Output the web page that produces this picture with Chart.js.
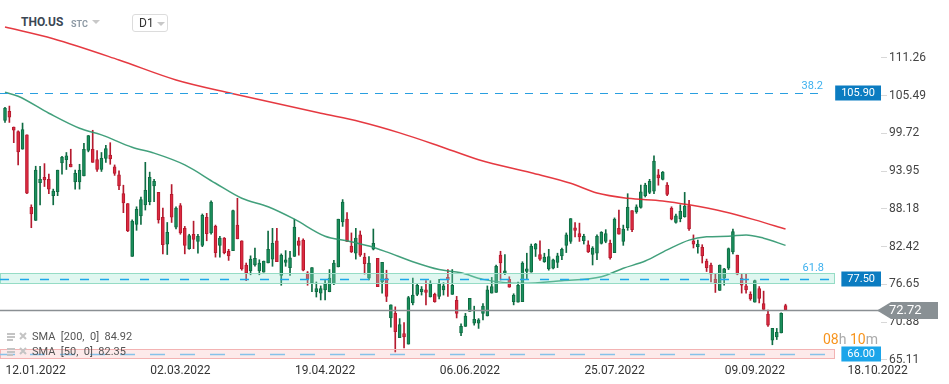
<!DOCTYPE html>
<html>
<head>
<meta charset="utf-8">
<script src="https://cdn.jsdelivr.net/npm/chart.js@4.4.0/dist/chart.umd.min.js"></script>
<style>
  body { margin: 0; background: #fff; font-family: Roboto, sans-serif; }
  #wrap { position: relative; width: 949px; height: 384px; overflow: hidden; }
  #chart { position: absolute; left: 0; top: 0; }
  .sym { position: absolute; left: 20px; top: 15px; font: bold 12px Roboto; color: #3b4754; background: #fff; padding: 0 1px; }
  .stc { position: absolute; left: 71px; top: 19px; font: bold 9px Roboto; color: #8e9aa5; }
  .tri { position: absolute; width: 0; height: 0; border-left: 4px solid transparent; border-right: 4px solid transparent; border-top: 4px solid #c8c8c8; }
  .tf { position: absolute; left: 132px; top: 14px; width: 34px; height: 16px; border: 1px solid #dcdcdc; border-radius: 3px; background: #fff; }
  .tf span.t { position: absolute; left: 6px; top: 1px; font: 12px Roboto; color: #333; }
  .timer { position: absolute; left: 823px; top: 331px; font: 14px Roboto; color: #aaa; white-space: nowrap; }
  .timer b { font-weight: normal; color: #f7941d; }
</style>
</head>
<body>
<div id="wrap">
  <canvas id="chart" width="949" height="384"></canvas>
  <div class="sym">THO.US</div>
  <div class="stc">STC</div>
  <div class="tri" style="left:92px;top:20px"></div>
  <div class="tf"><span class="t">D1</span><div class="tri" style="left:24px;top:7px"></div></div>
  <div class="timer"><b>08</b>h <b>10</b>m</div>
</div>
<script>
// daily candles, THO.US, 03.01.2022 - 20.09.2022 (index 0 = first candle)
const openP = [
  101.7,103.1,100.7,100.0,97.3,99.5,88.4,86.4,92.2,93.0,
  92.7,90.2,90.8,95.2,95.7,95.0,92.3,92.3,93.2,97.1,
  97.3,95.7,94.2,95.9,96.4,94.6,93.4,90.5,89.0,80.9,
  85.8,87.1,88.8,89.3,91.7,90.7,86.9,82.8,90.4,85.4,
  88.7,85.2,82.1,84.3,83.2,82.6,86.9,84.5,85.5,82.6,
  83.7,81.7,81.8,85.7,83.3,79.6,78.7,79.6,78.7,78.5,
  79.9,80.5,83.3,78.0,80.0,79.2,80.9,83.3,83.4,78.4,
  76.8,75.5,75.3,75.8,75.5,76.7,79.3,86.2,86.6,82.5,
  81.4,84.2,80.8,77.6,82.0,80.6,77.0,77.6,71.5,72.2,
  68.5,69.1,67.5,73.8,75.1,75.5,75.8,74.7,75.1,74.8,
  75.8,77.7,75.1,74.2,69.2,70.2,72.5,70.7,70.7,72.2,
  71.8,75.3,75.4,81.1,78.3,77.4,74.0,73.9,74.0,78.6,
  78.5,82.0,81.2,80.1,79.0,79.1,80.0,81.0,82.6,83.2,
  85.3,84.4,83.3,82.7,81.2,81.4,82.9,83.2,82.9,81.5,
  85.2,83.2,85.3,87.9,87.7,88.4,90.2,90.7,90.9,93.4,
  92.7,91.8,88.3,86.1,86.7,87.0,88.7,83.3,82.4,82.3,
  80.2,79.6,77.4,75.7,77.6,79.1,81.6,81.1,77.6,76.4,
  75.1,73.9,76.0,73.7,72.1,68.1,68.6,69.2,73.4
];
const highP = [
  103.7,103.9,100.7,100.1,101.3,99.5,88.8,94.7,94.7,95.1,
  93.5,91.2,94.1,96.2,96.8,97.3,94.1,95.0,98.2,99.4,
  100.2,97.1,96.8,97.9,98.3,94.9,94.0,91.8,89.0,86.5,
  88.5,90.0,95.3,93.8,92.7,90.7,88.3,86.1,91.9,88.5,
  89.0,85.5,84.3,86.3,84.3,87.4,87.5,89.4,85.7,84.0,
  83.8,82.0,88.0,89.8,83.3,79.9,81.0,82.2,80.4,80.2,
  84.8,85.2,85.2,81.3,81.8,81.7,86.6,83.8,83.6,78.6,
  79.2,77.0,76.4,77.3,78.9,80.3,86.6,89.6,87.6,84.5,
  85.2,84.8,81.4,80.9,85.1,80.6,80.0,78.8,73.5,73.2,
  71.4,70.8,74.8,77.6,76.7,76.3,77.2,77.2,75.3,77.4,
  76.9,78.9,78.9,74.8,70.6,72.2,74.5,73.3,71.4,73.7,
  76.4,77.7,79.6,81.7,81.2,77.8,75.2,77.0,80.1,81.4,
  82.8,82.9,83.3,81.4,82.0,80.5,81.4,82.2,84.5,86.7,
  86.1,86.0,84.3,83.3,82.4,84.2,84.7,85.0,83.4,86.8,
  88.0,85.7,90.5,87.9,88.8,91.8,92.1,92.7,96.3,94.2,
  93.9,92.2,88.5,87.4,88.8,90.7,89.5,84.2,83.4,82.7,
  80.5,79.9,78.3,79.6,79.1,82.2,85.1,81.1,78.3,78.2,
  75.5,77.3,76.3,75.6,72.7,69.9,69.9,72.3,73.6
];
const lowP = [
  101.4,101.4,98.3,94.9,97.3,90.5,85.3,86.4,88.8,91.6,
  90.5,88.8,90.2,93.5,94.2,94.6,91.2,91.2,93.2,96.9,
  95.3,93.9,93.9,95.3,95.0,93.3,91.1,87.6,84.7,80.9,
  84.9,85.8,88.0,88.8,89.3,86.0,81.3,81.2,86.1,85.1,
  84.3,81.3,82.0,82.1,81.4,82.4,83.3,84.3,80.8,80.8,
  81.3,80.3,81.8,83.6,78.8,77.2,78.1,79.4,78.1,78.5,
  79.9,79.4,80.1,76.5,79.4,78.0,80.9,81.1,78.7,76.5,
  75.5,74.7,74.25,74.25,75.5,76.6,79.3,85.5,83.2,81.5,
  80.5,80.9,78.2,77.3,81.9,76.3,75.3,74.0,70.1,66.3,
  68.5,66.9,67.5,73.5,74.9,75.0,73.5,74.7,73.9,74.4,
  75.0,74.8,75.1,71.5,68.8,70.2,72.5,70.4,69.9,71.2,
  71.8,75.3,75.4,77.3,78.1,76.2,73.5,73.9,74.0,77.4,
  78.5,80.9,80.3,80.0,78.8,79.0,79.2,80.4,81.5,82.9,
  83.9,83.2,82.8,81.5,79.6,80.4,82.8,83.0,80.5,81.5,
  84.3,82.6,84.9,84.7,87.5,88.3,90.0,90.5,90.5,91.8,
  92.6,90.2,86.5,86.0,86.2,86.9,84.9,82.2,81.4,79.9,
  78.6,77.0,75.4,75.7,76.5,78.9,81.3,78.1,75.3,75.3,
  74.2,73.9,73.8,72.8,70.2,67.4,68.2,69.2,72.72
];
const closeP = [
  103.6,102.2,100.2,96.9,100.3,90.6,87.4,94.1,92.7,92.6,
  91.2,90.9,94.1,96.1,96.3,94.6,93.6,94.1,97.3,99.4,
  95.3,94.2,95.9,97.4,95.8,93.6,91.7,89.1,84.8,86.3,
  88.1,89.6,91.0,93.0,92.4,86.5,82.7,84.6,86.9,88.3,
  84.5,82.6,84.1,83.5,84.0,87.2,84.4,89.2,81.5,83.7,
  81.5,81.0,87.9,83.6,79.0,78.4,80.5,80.6,79.9,80.2,
  82.0,82.9,80.1,81.1,80.4,80.7,85.4,82.6,78.8,77.5,
  79.2,76.0,76.0,76.7,77.6,79.9,86.6,89.2,83.2,81.6,
  83.7,81.1,79.8,79.9,82.9,76.3,80.0,74.8,73.5,69.4,
  70.5,68.6,74.6,75.0,76.5,75.9,75.4,76.8,74.0,76.7,
  76.4,77.3,76.5,72.2,70.2,71.8,74.5,71.3,71.2,73.3,
  75.8,76.3,79.4,79.9,78.7,76.2,75.0,76.5,79.9,79.0,
  82.5,82.8,80.5,80.8,80.9,80.4,81.0,82.0,84.2,86.7,
  84.9,83.9,84.0,81.6,82.2,84.0,84.6,84.4,80.7,86.6,
  84.3,85.1,88.4,85.0,88.5,90.8,91.8,92.4,95.5,92.9,
  93.8,90.4,86.6,87.1,87.8,88.6,85.1,82.8,82.8,81.0,
  79.2,78.2,76.9,79.6,79.0,82.1,84.7,78.2,76.5,75.8,
  74.4,77.2,74.5,72.8,70.4,69.9,69.3,72.2,72.72
];

// moving averages, read at a few candles
const sma200Idx = [0,11,26,39,52,72,81,90,99,108,120,129,135,142,150,156,164,171,178];
const sma200Val = [116.0,114.2,110.95,107.9,105.8,102.8,101.5,99.8,97.8,95.7,93.7,92.1,90.6,89.8,89.4,88.8,87.75,86.5,85.1];
const sma50Idx = [0,3,10,17,22,29,34,41,48,54,60,66,73,78,83,87,93,99,104,109,118,127,136,141,146,151,156,160,165,169,173,178];
const sma50Val = [106.0,105.4,102.8,100.5,99.5,97.6,96.7,94.9,92.1,89.8,88.5,86.6,84.0,83.3,82.5,81.6,80.1,78.9,78.4,77.4,76.8,77.2,77.8,79.1,80.2,81.9,83.4,83.9,84.0,84.2,83.7,82.6];
const smaLegend = ['SMA  [200,  0]  84.92', 'SMA  [50,  0]  82.35'];

// axes
const xTickIdx = [7, 40, 73, 106, 139, 171, 199];
const xTickLabels = ['12.01.2022', '02.03.2022', '19.04.2022', '06.06.2022', '25.07.2022', '09.09.2022', '18.10.2022'];
const yTicks = [65.11, 70.88, 76.65, 82.42, 88.18, 93.95, 99.72, 105.49, 111.26];

// levels and zones
const fibLevel = 105.90, fibLabel = '38.2';
const zoneLevels = [77.50, 66.00];
const zoneLow = [76.8, 65.33];
const zoneHigh = [78.3, 66.7];
const zoneLabels = ['61.8', ''];
const lastPrice = 72.72;

const GREEN = '#1a8f5c', GREEN_D = '#0e6b42';
const RED = '#dc2a40', RED_D = '#b51a2e';

const up = closeP.map((c, i) => c >= openP[i]);
const wickData = highP.map((h, i) => ({ x: i, y: [lowP[i], h] }));
const bodyData = openP.map((o, i) => ({ x: i, y: [Math.min(o, closeP[i]), Math.max(o, closeP[i])] }));
const sma200 = sma200Idx.map((x, i) => ({ x: x, y: sma200Val[i] }));
const sma50 = sma50Idx.map((x, i) => ({ x: x, y: sma50Val[i] }));

function dashLine(ctx, x0, x1, y, color, dash, w) {
  ctx.save();
  ctx.strokeStyle = color; ctx.lineWidth = w; ctx.setLineDash(dash);
  ctx.beginPath(); ctx.moveTo(x0, y); ctx.lineTo(x1, y); ctx.stroke();
  ctx.restore();
}

function tag(ctx, text, y, right, fill) {
  ctx.font = '11px Roboto';
  const w = ctx.measureText(text).width + 12;
  ctx.fillStyle = fill;
  ctx.fillRect(right - w, Math.round(y) - 7.5, w, 15);
  ctx.fillStyle = '#fff'; ctx.textAlign = 'left'; ctx.textBaseline = 'middle';
  ctx.fillText(text, right - w + 6, y + 0.5);
}

const levels = {
  id: 'levels',
  afterDatasetsDraw(chart) {
    const { ctx, chartArea: a, scales: { y } } = chart;
    const xEnd = a.right - 46;
    ctx.save();
    // zones
    const zoneFill = ['rgba(150,228,205,0.30)', 'rgba(245,150,150,0.20)'];
    const zoneLine = ['#95dcc5', '#f3b3b3'];
    const zoneDash = [[9, 11], [15, 15]];
    const dashColor = ['#1ea7ea', '#86c2ea'];
    zoneLevels.forEach((lv, i) => {
      const t = y.getPixelForValue(zoneHigh[i]), b = y.getPixelForValue(zoneLow[i]);
      ctx.fillStyle = zoneFill[i];
      ctx.fillRect(a.left, t, xEnd - a.left, b - t);
      ctx.strokeStyle = zoneLine[i]; ctx.lineWidth = 1;
      ctx.strokeRect(a.left + 0.5, Math.round(t) + 0.5, xEnd - a.left - 1, Math.round(b - t));
      dashLine(ctx, a.left, xEnd - 4, Math.round(y.getPixelForValue(lv)) + 0.5, dashColor[i], zoneDash[i], 1.5);
      if (zoneLabels[i]) {
        ctx.font = '11px Roboto'; ctx.fillStyle = '#3cb0ee';
        ctx.textAlign = 'right'; ctx.textBaseline = 'alphabetic';
        ctx.fillText(zoneLabels[i], xEnd - 11, t - 2);
      }
    });
    // fibo level
    const fy = Math.round(y.getPixelForValue(fibLevel)) + 0.5;
    dashLine(ctx, a.left, xEnd - 10, fy, '#2a9fe0', [8, 7], 1.2);
    ctx.font = '11px Roboto'; ctx.fillStyle = '#3cb0ee';
    ctx.textAlign = 'right'; ctx.textBaseline = 'alphabetic';
    ctx.fillText(fibLabel, xEnd - 12, fy - 5);
    // last price line
    const py = Math.round(y.getPixelForValue(lastPrice)) + 0.5;
    ctx.strokeStyle = '#8a8f93'; ctx.lineWidth = 1.3;
    ctx.beginPath(); ctx.moveTo(a.left, py); ctx.lineTo(a.right, py); ctx.stroke();
    ctx.restore();
  },
  afterDraw(chart) {
    const { ctx, chartArea: a, scales: { y } } = chart;
    ctx.save();
    tag(ctx, fibLevel.toFixed(2), y.getPixelForValue(fibLevel), a.right, '#0b7cc1');
    tag(ctx, zoneLevels[0].toFixed(2), y.getPixelForValue(zoneLevels[0]), a.right, '#0b7cc1');
    tag(ctx, zoneLevels[1].toFixed(2), y.getPixelForValue(zoneLevels[1]), a.right, '#1ba5ea');
    // price arrow
    const py = Math.round(y.getPixelForValue(lastPrice)) + 0.5;
    ctx.fillStyle = '#899094';
    ctx.beginPath();
    ctx.moveTo(a.right - 4, py);
    ctx.lineTo(a.right + 10, py - 8.5);
    ctx.lineTo(a.right + 57, py - 8.5);
    ctx.lineTo(a.right + 57, py + 8.5);
    ctx.lineTo(a.right + 10, py + 8.5);
    ctx.closePath(); ctx.fill();
    ctx.font = '13px Roboto'; ctx.fillStyle = '#fff';
    ctx.textAlign = 'left'; ctx.textBaseline = 'middle';
    ctx.fillText(lastPrice.toFixed(2), a.right + 8, py + 0.5);
    // indicator legend
    smaLegend.forEach((txt, i) => {
      const ly = 337 + i * 15;
      ctx.fillStyle = '#c4c4c4';
      ctx.fillRect(7, ly - 4, 8, 2); ctx.fillRect(7, ly - 1, 8, 2); ctx.fillRect(7, ly + 2, 6, 2);
      ctx.strokeStyle = '#c4c4c4'; ctx.lineWidth = 2;
      ctx.beginPath();
      ctx.moveTo(20, ly - 4); ctx.lineTo(26, ly + 2);
      ctx.moveTo(26, ly - 4); ctx.lineTo(20, ly + 2);
      ctx.stroke();
      ctx.font = '11px Roboto'; ctx.fillStyle = '#555';
      ctx.textAlign = 'left'; ctx.textBaseline = 'middle';
      ctx.fillText(txt, 32, ly);
    });
    ctx.restore();
  }
};

new Chart(document.getElementById('chart'), {
  type: 'bar',
  data: {
    datasets: [
      { type: 'line', data: sma200, borderColor: 'rgba(226,36,44,0.9)', borderWidth: 1.5,
        pointRadius: 0, tension: 0.4, cubicInterpolationMode: 'monotone', order: 0 },
      { type: 'line', data: sma50, borderColor: 'rgba(46,150,110,0.9)', borderWidth: 1.5,
        pointRadius: 0, tension: 0.4, cubicInterpolationMode: 'monotone', order: 0 },
      { data: wickData, backgroundColor: up.map(u => u ? GREEN_D : RED_D),
        barThickness: 1, grouped: false, order: 2 },
      { data: bodyData, backgroundColor: up.map(u => u ? GREEN : RED),
        borderColor: up.map(u => u ? GREEN_D : RED_D), borderWidth: 1, borderSkipped: false,
        barThickness: 3, minBarLength: 1, grouped: false, order: 1 }
    ]
  },
  options: {
    responsive: false,
    animation: false,
    layout: { padding: 0 },
    plugins: { legend: { display: false }, tooltip: { enabled: false } },
    scales: {
      x: {
        type: 'linear', min: -1.14, max: 199.77, offset: false,
        grid: { display: false, drawTicks: false }, border: { display: false },
        afterBuildTicks: s => { s.ticks = xTickIdx.map(v => ({ value: v })); },
        afterFit: s => { s.height = 24; s.paddingLeft = 0; s.paddingRight = 0; },
        ticks: { autoSkip: false, maxRotation: 0, padding: 4, color: '#333',
          font: { family: 'Roboto', size: 12 },
          callback: (v, i) => xTickLabels[i] }
      },
      y: {
        position: 'right', min: 65.07, max: 120.12,
        grid: { drawOnChartArea: false, drawTicks: true, tickLength: 6, color: '#d8d8d8' },
        border: { display: false },
        afterBuildTicks: s => { s.ticks = yTicks.map(v => ({ value: v })); },
        afterFit: s => { s.width = 68; s.paddingTop = 0; s.paddingBottom = 0; },
        ticks: { padding: 2, color: '#444', font: { family: 'Roboto', size: 12 },
          callback: v => v.toFixed(2) }
      }
    }
  },
  plugins: [levels]
});
</script>
</body>
</html>
